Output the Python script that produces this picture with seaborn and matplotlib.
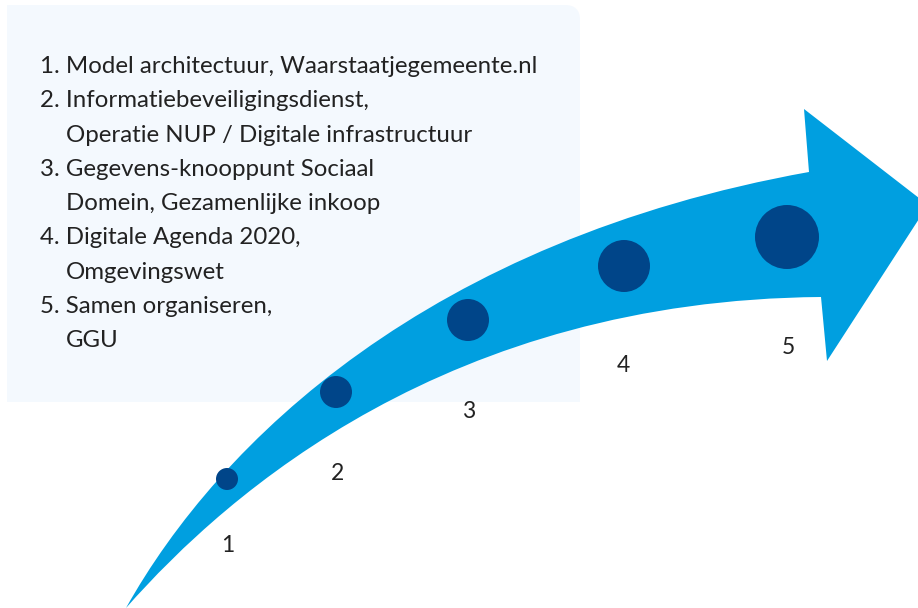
import numpy as np
import pandas as pd
import matplotlib
matplotlib.use("Agg")
import matplotlib.pyplot as plt
from matplotlib.path import Path
from matplotlib.patches import PathPatch, FancyBboxPatch
import seaborn as sns

# ── Data ────────────────────────────────────────────────────────────────────
steps = ["1", "2", "3", "4", "5"]
step_x = [227, 336, 468, 624, 787]
step_y = [479, 392, 320, 266, 237]
step_radius = [11, 16, 21, 26, 32]
label_x = [228, 338, 469, 623, 788]
label_y = [545, 473, 412, 366, 347]

items = [
    "1. Model architectuur, Waarstaatjegemeente.nl",
    "2. Informatiebeveiligingsdienst,",
    "    Operatie NUP / Digitale infrastructuur",
    "3. Gegevens-knooppunt Sociaal",
    "    Domein, Gezamenlijke inkoop",
    "4. Digitale Agenda 2020,",
    "    Omgevingswet",
    "5. Samen organiseren,",
    "    GGU",
]

ARROW_COLOR = "#009FE0"
DOT_COLOR = "#004589"
BOX_COLOR = "#F4F9FE"
TEXT_COLOR = "#222222"

sns.set_theme(style="white")
plt.rcParams["font.family"] = ["Lato", "DejaVu Sans"]

fig = plt.figure(figsize=(9.18, 6.08), dpi=100)
ax = fig.add_axes([0, 0, 1, 1])

# ── Text box ────────────────────────────────────────────────────────────────
box = FancyBboxPatch((7, 5), 573, 397, boxstyle="round,pad=0,rounding_size=15",
                     fc=BOX_COLOR, ec="none", zorder=0)
ax.add_patch(box)
# square off the corners that are not rounded
ax.add_patch(plt.Rectangle((7, 5), 30, 397, fc=BOX_COLOR, ec="none", zorder=0))
ax.add_patch(plt.Rectangle((7, 360), 573, 42, fc=BOX_COLOR, ec="none", zorder=0))

for i, line in enumerate(items):
    indent = 66 if line.startswith("    ") else 40
    ax.text(indent, 73 + i * 34.3, line.strip(), fontsize=17.3, color=TEXT_COLOR,
            ha="left", va="baseline", zorder=3)

# ── Curved arrow ────────────────────────────────────────────────────────────
verts = [
    (126, 608),
    (220, 440), (430, 240), (809, 172),   # upper edge
    (804, 109), (928, 205), (827, 361), (821, 297),  # head
    (450, 300), (230, 490), (126, 608),   # lower edge
    (126, 608),
]
codes = [Path.MOVETO,
         Path.CURVE4, Path.CURVE4, Path.CURVE4,
         Path.LINETO, Path.LINETO, Path.LINETO, Path.LINETO,
         Path.CURVE4, Path.CURVE4, Path.CURVE4,
         Path.CLOSEPOLY]
ax.add_patch(PathPatch(Path(verts, codes), fc=ARROW_COLOR, ec="none", zorder=1))

# ── Dots and step labels ────────────────────────────────────────────────────
df = pd.DataFrame({"step": steps, "x": step_x, "y": step_y, "r": step_radius})
px_to_pt = 72 / fig.dpi
df["s"] = (2 * df["r"] * px_to_pt) ** 2
sns.scatterplot(data=df, x="x", y="y", s=df["s"], color=DOT_COLOR,
                linewidth=0, legend=False, ax=ax, zorder=2)
ax.set_xlim(0, 918)
ax.set_ylim(608, 0)
ax.axis("off")

for lab, lx, ly in zip(steps, label_x, label_y):
    ax.text(lx, ly, lab, fontsize=16.5, color=TEXT_COLOR,
            ha="center", va="center", zorder=3)

fig.savefig("out.png", dpi=100)
